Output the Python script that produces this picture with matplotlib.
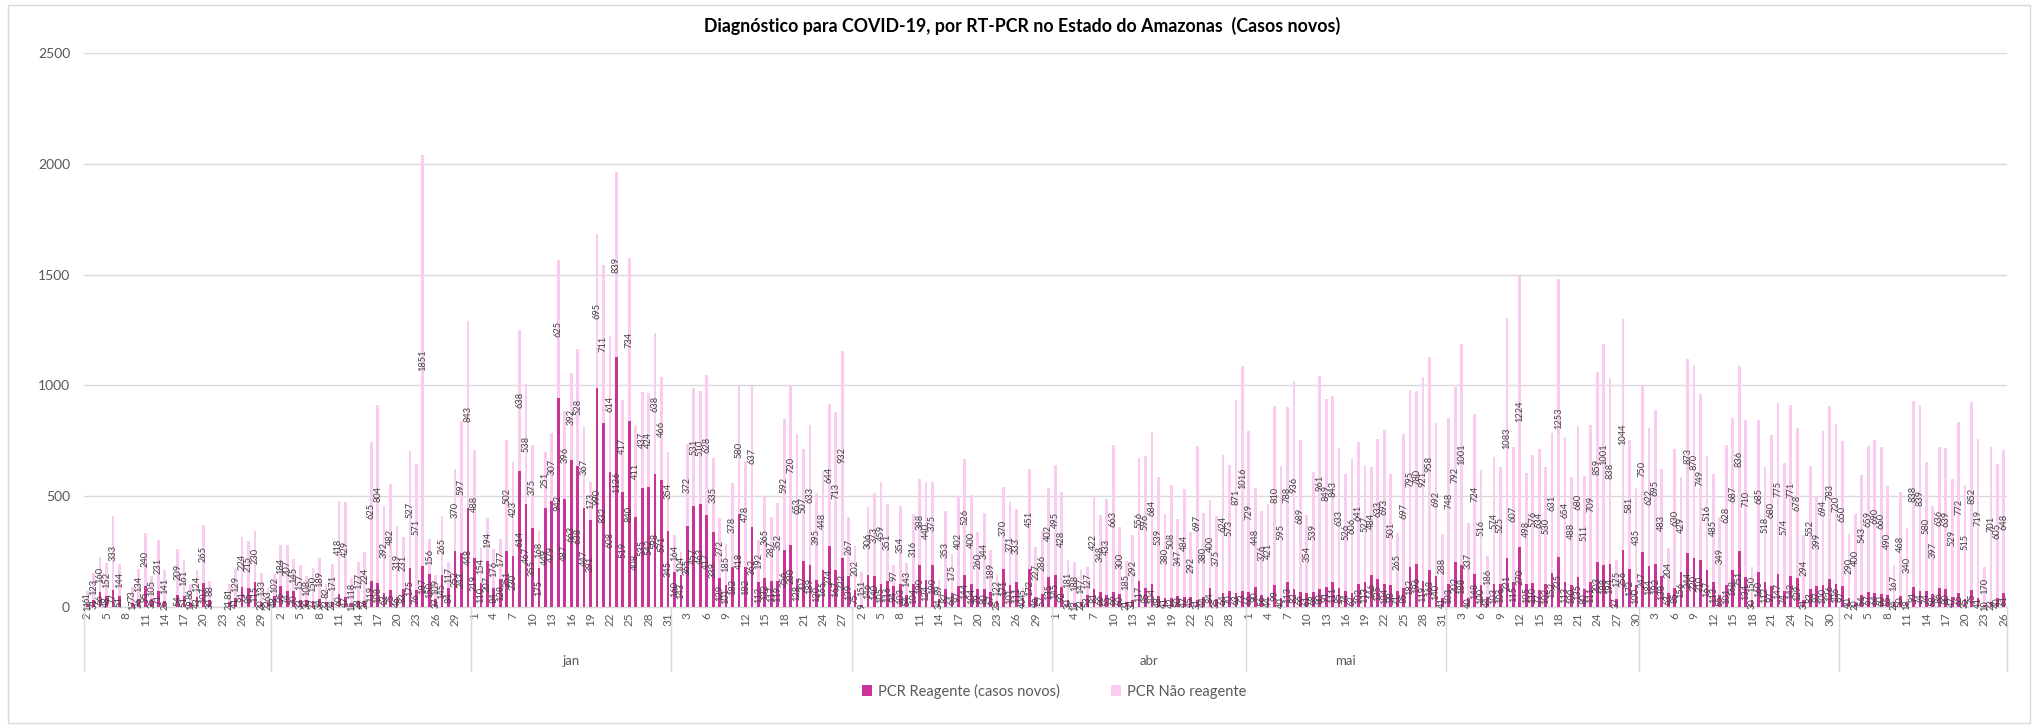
import numpy as np
import matplotlib
matplotlib.use("Agg")
import matplotlib.pyplot as plt
from matplotlib.patches import Rectangle
from matplotlib.transforms import blended_transform_factory

plt.rcParams['font.family'] = ['Lato', 'DejaVu Sans']

# ---------------- data ----------------
title = "Diagnóstico para COVID-19, por RT-PCR no Estado do Amazonas  (Casos novos)"
series_names = ["PCR Reagente (casos novos)", "PCR Não reagente"]

months = ["nov", "dez", "jan", "fev", "mar", "abr", "mai", "jun", "jul", "ago"]
month_labels = ["", "", "jan", "", "", "abr", "mai", "", "", ""]

days_nov = list(range(2, 31))
days_dez = list(range(1, 32))
days_jan = list(range(1, 32))
days_fev = list(range(1, 29))
days_mar = list(range(1, 32))
days_abr = list(range(1, 31))
days_mai = list(range(1, 32))
days_jun = list(range(1, 31))
days_jul = list(range(1, 32))
days_ago = list(range(1, 27))

reag_nov = [11, 31, 66, 48, 77, 51, 0, 17, 36, 95, 35, 71, 25, 0, 54, 51, 19, 43, 107, 30, 0, 0, 21, 41, 91, 85, 115, 20, 22]
nreag_nov = [61, 123, 160, 152, 333, 144, 0, 73, 134, 240, 105, 231, 141, 0, 209, 161, 86, 124, 265, 88, 0, 0, 81, 129, 224, 215, 230, 133, 63]

reag_dez = [48, 95, 74, 70, 33, 30, 27, 34, 22, 24, 60, 47, 15, 28, 26, 119, 108, 63, 75, 46, 83, 175, 76, 187, 150, 37, 145, 84, 252, 243, 448]
nreag_dez = [102, 184, 207, 145, 157, 108, 150, 189, 82, 171, 418, 429, 118, 177, 224, 625, 804, 392, 482, 319, 231, 527, 571, 1851, 156, 109, 265, 117, 370, 597, 843]

reag_jan = [219, 110, 207, 84, 128, 251, 230, 614, 467, 355, 175, 449, 479, 942, 487, 663, 638, 447, 391, 990, 832, 608, 1126, 519, 840, 408, 535, 542, 598, 571, 345]
nreag_jan = [488, 154, 194, 176, 177, 502, 423, 638, 538, 375, 168, 251, 307, 625, 396, 392, 528, 367, 173, 695, 711, 614, 839, 417, 734, 411, 437, 424, 638, 466, 354]

reag_fev = [160, 143, 365, 457, 463, 417, 339, 129, 101, 182, 418, 182, 362, 112, 132, 117, 119, 256, 280, 128, 207, 189, 120, 165, 274, 167, 222, 139]
nreag_fev = [164, 104, 372, 531, 510, 628, 335, 272, 185, 378, 580, 478, 637, 192, 365, 287, 352, 592, 720, 653, 507, 633, 395, 448, 644, 713, 932, 267]

reag_mar = [75, 9, 146, 140, 105, 116, 94, 103, 54, 104, 190, 124, 190, 34, 82, 64, 97, 144, 104, 79, 80, 67, 25, 171, 101, 111, 40, 172, 46, 57, 135]
nreag_mar = [202, 151, 306, 373, 459, 351, 97, 354, 143, 316, 388, 440, 375, 89, 353, 175, 402, 526, 400, 260, 344, 189, 122, 370, 371, 333, 45, 451, 227, 286, 402]

reag_abr = [145, 92, 30, 13, 22, 53, 81, 66, 55, 66, 60, 21, 31, 117, 85, 104, 48, 41, 42, 50, 47, 45, 31, 44, 84, 35, 64, 70, 63, 73]
nreag_abr = [495, 428, 181, 188, 147, 127, 422, 348, 433, 663, 300, 185, 292, 556, 596, 684, 539, 380, 508, 347, 484, 292, 697, 380, 400, 375, 624, 573, 871, 1016]

reag_mai = [66, 90, 56, 44, 99, 40, 113, 82, 66, 61, 68, 80, 91, 111, 85, 74, 62, 102, 113, 146, 125, 104, 98, 71, 85, 182, 196, 119, 168, 140, 41]
nreag_mai = [729, 448, 376, 421, 810, 595, 788, 936, 689, 354, 539, 961, 849, 843, 633, 526, 606, 641, 527, 484, 633, 693, 501, 265, 697, 795, 780, 921, 958, 692, 288]

reag_jun = [103, 202, 188, 40, 148, 100, 44, 103, 106, 221, 115, 270, 105, 110, 77, 102, 152, 225, 113, 100, 135, 80, 111, 203, 188, 194, 37, 256, 172, 100]
nreag_jun = [748, 792, 1001, 337, 724, 516, 186, 574, 525, 1083, 607, 1224, 498, 576, 634, 530, 631, 1253, 654, 488, 680, 511, 709, 859, 1001, 838, 175, 1044, 581, 435]

reag_jul = [247, 184, 192, 138, 63, 85, 156, 244, 220, 210, 167, 113, 55, 101, 168, 251, 134, 30, 160, 112, 97, 147, 74, 142, 129, 31, 83, 97, 100, 126, 106]
nreag_jul = [750, 622, 695, 483, 204, 630, 429, 873, 870, 749, 516, 485, 349, 628, 687, 836, 710, 150, 685, 518, 680, 775, 574, 771, 678, 294, 552, 399, 694, 783, 720]

reag_ago = [97, 40, 20, 54, 67, 64, 60, 55, 24, 50, 18, 91, 74, 74, 58, 86, 80, 47, 65, 35, 75, 41, 10, 23, 40, 61]
nreag_ago = [650, 290, 400, 543, 659, 690, 660, 490, 167, 468, 340, 838, 839, 580, 397, 636, 639, 529, 772, 515, 852, 719, 170, 701, 605, 648]

days_by_month = [days_nov, days_dez, days_jan, days_fev, days_mar, days_abr, days_mai, days_jun, days_jul, days_ago]
reag_by_month = [reag_nov, reag_dez, reag_jan, reag_fev, reag_mar, reag_abr, reag_mai, reag_jun, reag_jul, reag_ago]
nreag_by_month = [nreag_nov, nreag_dez, nreag_jan, nreag_fev, nreag_mar, nreag_abr, nreag_mai, nreag_jun, nreag_jul, nreag_ago]

y_ticks = [0, 500, 1000, 1500, 2000, 2500]

# ---------------- build ----------------
day_labels = [d for m in days_by_month for d in m]
reag = np.array([v for m in reag_by_month for v in m], dtype=float)
nreag = np.array([v for m in nreag_by_month for v in m], dtype=float)
n = len(day_labels)
x = np.arange(n)

W, H = 2038, 728
fig = plt.figure(figsize=(W / 100, H / 100), dpi=100)
fig.patch.set_facecolor('white')
ax = fig.add_axes([84 / W, (H - 607) / H, (2007 - 84) / W, (607 - 53) / H])

c_dark = '#CC3399'
c_light = '#FACCEF'
grey = '#595959'
lab_grey = '#404040'
line_grey = '#D9D9D9'

bw = 0.42
b1 = ax.bar(x, reag, width=bw, color=c_dark, label=series_names[0], zorder=3)
b2 = ax.bar(x, nreag, width=bw, bottom=reag, color=c_light, label=series_names[1], zorder=3)

lab1 = [f"{int(v)}" if v > 0 else "" for v in reag]
lab2 = [f"{int(v)}" if v > 0 else "" for v in nreag]
ax.bar_label(b1, labels=lab1, label_type='center', rotation=90, fontsize=6.7, color=lab_grey, zorder=4)
ax.bar_label(b2, labels=lab2, label_type='center', rotation=90, fontsize=6.7, color=lab_grey, zorder=4)

ax.set_xlim(-0.5, n - 0.5)
ax.set_ylim(0, 2500)
ax.set_yticks(y_ticks)
ax.set_yticklabels([str(t) for t in y_ticks], fontsize=10, color=grey)
ax.tick_params(axis='y', length=0, pad=10)
ax.grid(axis='y', color=line_grey, lw=1, zorder=0)
ax.set_axisbelow(True)
for s in ['top', 'right', 'left']:
    ax.spines[s].set_visible(False)
ax.spines['bottom'].set_color(line_grey)
ax.spines['bottom'].set_linewidth(1)

tick_idx = list(range(0, n, 3))
ax.set_xticks(tick_idx)
ax.set_xticklabels([str(day_labels[i]) for i in tick_idx], rotation=90, fontsize=8.5, color=grey)
ax.tick_params(axis='x', length=0, pad=4)

# month groups
trans = blended_transform_factory(ax.transData, ax.transAxes)
start = 0
bounds = [-0.5]
for m, days in zip(months, days_by_month):
    end = start + len(days)
    bounds.append(end - 0.5)
    start = end
sep_bottom = (607 - 671) / (607 - 53)
for b in bounds:
    ax.plot([b, b], [0, sep_bottom], transform=trans, color=line_grey, lw=1, clip_on=False)
start = 0
lab_y = (607 - 661) / (607 - 53)
for lbl, days in zip(month_labels, days_by_month):
    end = start + len(days)
    if lbl:
        ax.text((start + end - 1) / 2, lab_y, lbl, transform=trans, ha='center', va='center',
                fontsize=9.5, color=grey)
    start = end

fig.text(0.5015, 1 - 26 / H, title, ha='center', va='center', fontsize=12.8, fontweight='bold', color='#000000')

fig.legend(handles=[b1, b2], labels=series_names, loc='center', bbox_to_anchor=(1054 / W, 1 - 691 / H),
           ncol=2, frameon=False, fontsize=10.5, handlelength=0.7, handleheight=0.7,
           handletextpad=0.4, columnspacing=3.5, labelcolor=grey)

fig.patches.append(Rectangle((8 / W, 5 / H), (2030 - 8) / W, (723 - 5) / H, transform=fig.transFigure,
                             fill=False, edgecolor=line_grey, lw=1))

fig.savefig('out.png', dpi=100)
